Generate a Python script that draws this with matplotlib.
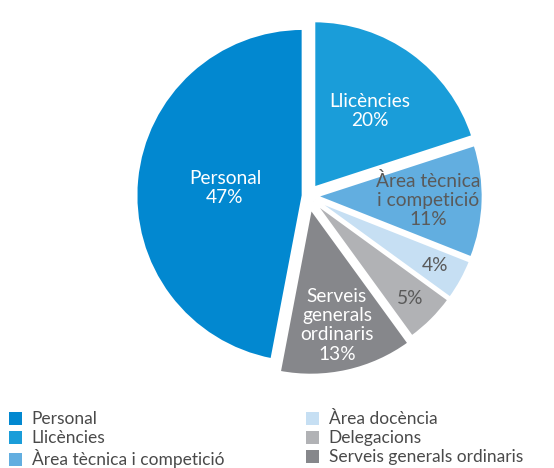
import numpy as np
import matplotlib.pyplot as plt
from matplotlib.patches import Patch

plt.rcParams['font.family'] = ['Lato', 'DejaVu Sans']

# Pressupost per àrees (%), en l'ordre de dibuix (sentit horari des de dalt)
categories = ['Llicències', 'Àrea tècnica i competició', 'Àrea docència',
              'Delegacions', 'Serveis generals ordinaris', 'Personal']
inner_labels = ['Llicències', 'Àrea tècnica\ni competició', '',
                '', 'Serveis\ngenerals\nordinaris', 'Personal']
values = [20, 11, 4, 5, 13, 47]
colors = ['#1a9dd9', '#62aee0', '#c6dff3', '#b1b2b5', '#86878b', '#0288d0']
text_colors = ['white', '#5a5a5a', '#5a5a5a', '#5a5a5a', 'white', 'white']
label_radius = [0.57, 0.67, 0.82, 0.82, 0.72, 0.47]
explode = [0.06, 0.048, 0.048, 0.048, 0.074, 0.03]

legend_order = ['Personal', 'Llicències', 'Àrea tècnica i competició',
                'Àrea docència', 'Delegacions', 'Serveis generals ordinaris']

fig = plt.figure(figsize=(5.54, 4.68), dpi=100)
ax = fig.add_axes([0.1792, 0.1351, 0.7536, 0.8921])

wedges, _ = ax.pie(values, colors=colors, startangle=90, counterclock=False,
                   explode=explode,
                   wedgeprops=dict(edgecolor='white', linewidth=2))

# etiquetes dins de cada sector
for w, lab, v, tc, r in zip(wedges, inner_labels, values, text_colors, label_radius):
    ang = np.deg2rad((w.theta1 + w.theta2) / 2)
    cx, cy = w.center
    txt = f'{lab}\n{v}%' if lab else f'{v}%'
    ax.text(cx + r * np.cos(ang), cy + r * np.sin(ang), txt, color=tc,
            ha='center', va='center', fontsize=13.8, linespacing=1.15)

ax.set_xlim(-1.25, 1.25)
ax.set_ylim(-1.25, 1.25)
ax.set_aspect('equal')
ax.axis('off')

lookup = dict(zip(categories, colors))
handles = [Patch(facecolor=lookup[c], edgecolor='none') for c in legend_order]
fig.legend(handles, legend_order, ncol=2, loc='upper left',
           bbox_to_anchor=(0.016, 0.121), frameon=False, fontsize=12.5,
           handlelength=0.75, handleheight=0.75, handletextpad=0.57,
           columnspacing=4.7, labelspacing=0.17, borderpad=0,
           borderaxespad=0, labelcolor='#4a4a4a')

fig.savefig('out.png', dpi=100)
